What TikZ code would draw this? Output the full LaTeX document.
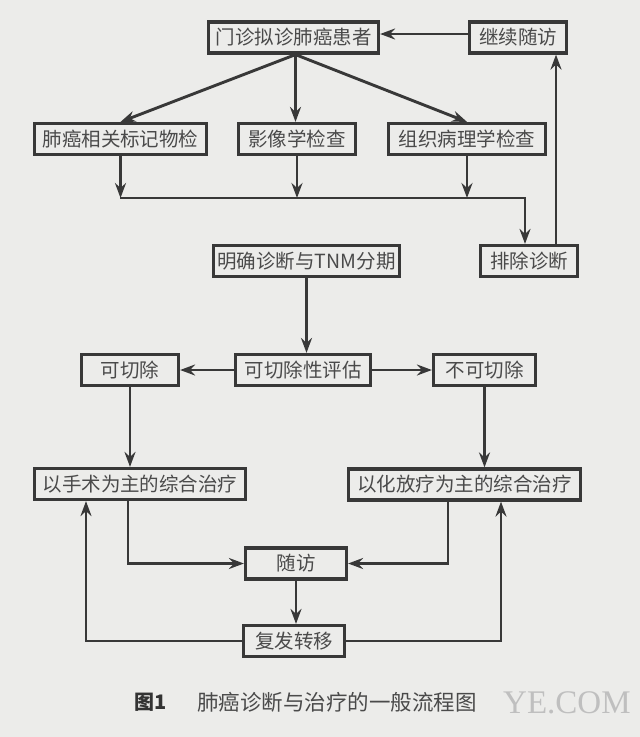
\documentclass[tikz,border=0pt]{standalone}
\usepackage{fontspec}
\newfontfamily\cjk{Noto Sans CJK SC}
\newfontfamily\wmfont{Liberation Serif}
\usetikzlibrary{arrows.meta,calc}
\definecolor{bg}{HTML}{ECECEA}
\definecolor{linec}{HTML}{383838}
\definecolor{textc}{HTML}{4A4A4A}
\tikzset{
  box/.style={draw=linec, line width=3.2pt, fill=bg, text=textc, inner sep=0pt,
    minimum height=31pt, font=\cjk\fontsize{19.5}{21}\selectfont},
  arr/.style={draw=linec, line width=2.9pt,
    -{Stealth[length=15pt,width=11pt,inset=5pt]}},
}
\begin{document}
\begin{tikzpicture}[x=1pt,y=-1pt]
\fill[bg] (0,0) rectangle (640,737);
\useasboundingbox (0,0) rectangle (640,737);

% nodes
\node[box, minimum width=170pt] (menzhen) at (293.5,37.5) {门诊拟诊肺癌患者};
\node[box, minimum width=97pt]  (jixu)    at (518,37.5)   {继续随访};
\node[box, minimum width=172pt] (feiai)   at (120.5,139)  {肺癌相关标记物检};
\node[box, minimum width=117pt] (yingx)   at (297,139)    {影像学检查};
\node[box, minimum width=157pt] (zuzhi)   at (467,139)    {组织病理学检查};
\node[box, minimum width=186pt] (mingque) at (306.5,261)  {明确诊断与TNM分期};
\node[box, minimum width=97pt]  (paichu)  at (529,261)    {排除诊断};
\node[box, minimum width=135pt] (pinggu)  at (303,370)    {可切除性评估};
\node[box, minimum width=97pt]  (kqc)     at (130,370)    {可切除};
\node[box, minimum width=102pt] (bkqc)    at (484.5,370)  {不可切除};
\node[box, minimum width=211pt] (shoushu) at (140,484)    {以手术为主的综合治疗};
\node[box, minimum width=232pt] (huafang) at (464.5,484.5){以化放疗为主的综合治疗};
\node[box, minimum width=101pt] (suifang) at (296,563.5)  {随访};
\node[box, minimum width=101pt] (fufa)    at (294,641)    {复发转移};

% caption and watermark
\node[anchor=west, text=black!80, inner sep=0pt,
  font=\cjk\bfseries\fontsize{20}{22}\selectfont] (figno) at (134,702) {图1};
\node[anchor=west, text=textc, inner sep=0pt,
  font=\cjk\fontsize{21.5}{23}\selectfont] (caption) at (197,702) {肺癌诊断与治疗的一般流程图};
\node[anchor=west, text=black!25, inner sep=0pt,
  font=\wmfont\fontsize{33}{35}\selectfont] (wm) at (503,703) {YE.COM};

% helper coordinates
\coordinate (ms) at ([xshift=2pt]menzhen.south);
\coordinate (busL) at (120,198);
\coordinate (busR) at (525,198);
\coordinate (up1) at (556,0);
\coordinate (sL) at (128,0);
\coordinate (sR) at (448,0);
\coordinate (fL) at (86,0);
\coordinate (fR) at (501,0);

% connectors
\draw[arr] ([yshift=3.5pt]jixu.west) -- ([yshift=3.5pt]menzhen.east);
\draw[arr] (ms) -- (feiai.north);
\draw[arr] (ms) -- (ms |- yingx.north);
\draw[arr] (ms) -- (zuzhi.north);
\draw[arr] (feiai.south) -- (feiai.south |- busL);
\draw[arr] (yingx.south) -- (yingx.south |- busL);
\draw[arr] (zuzhi.south) -- (zuzhi.south |- busL);
\draw[arr] (busL) -- (busR) -- (busR |- paichu.north);
\draw[arr] (paichu.north -| up1) -- (jixu.south -| up1);
\draw[arr] (mingque.south) -- (mingque.south |- pinggu.north);
\draw[arr] (pinggu.west) -- (kqc.east);
\draw[arr] (pinggu.east) -- (bkqc.west);
\draw[arr] (kqc.south) -- (kqc.south |- shoushu.north);
\draw[arr] (bkqc.south) -- (bkqc.south |- huafang.north);
\draw[arr] (shoushu.south -| sL) |- (suifang.west);
\draw[arr] (huafang.south -| sR) |- (suifang.east);
\draw[arr] (suifang.south) -- (suifang.south |- fufa.north);
\draw[arr] (fufa.west) -| (fL |- shoushu.south);
\draw[arr] (fufa.east) -| (fR |- huafang.south);
\end{tikzpicture}
\end{document}
